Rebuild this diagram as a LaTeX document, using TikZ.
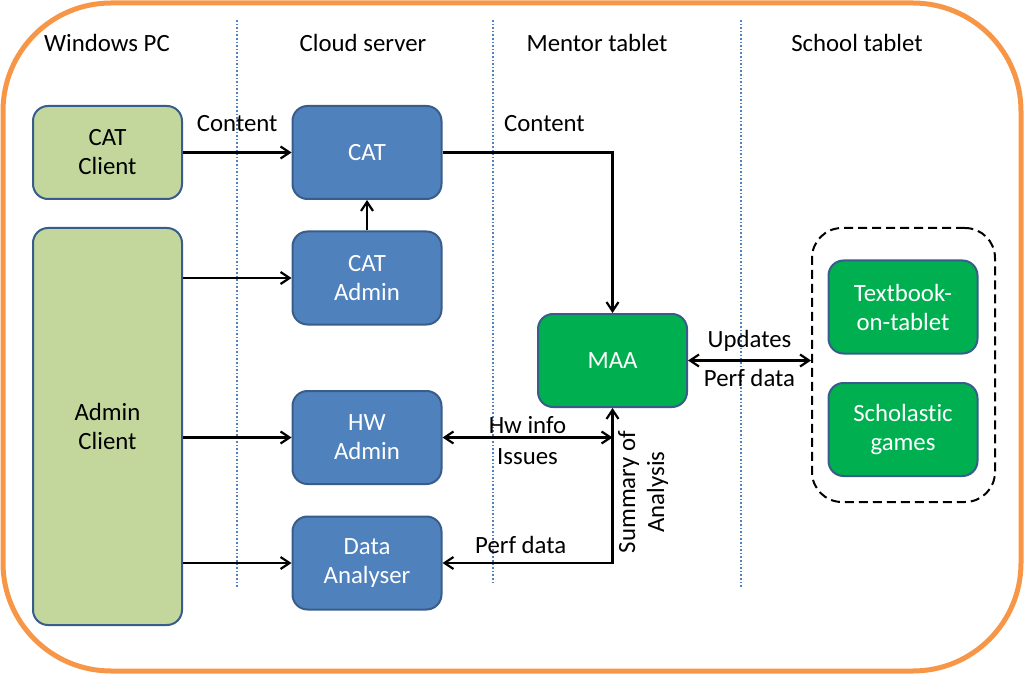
\documentclass[tikz,border=0pt]{standalone}
\usepackage{fontspec}
\setmainfont{Carlito}[Ligatures={NoCommon,NoRare}]
\usetikzlibrary{arrows.meta}
\definecolor{frameorange}{HTML}{F79646}
\definecolor{boxedge}{HTML}{385D8A}
\definecolor{clientgreen}{HTML}{C3D69B}
\definecolor{serverblue}{HTML}{4F81BD}
\definecolor{tabletgreen}{HTML}{00B050}

\begin{document}
\begin{tikzpicture}[x=0.5pt, y=-0.5pt,
  font=\fontsize{12.4}{14.5}\selectfont,
  box/.style={
    draw=boxedge, line width=1pt, rounded corners=7.5pt,
    minimum width=74.5pt, minimum height=46.5pt,
    align=center, inner sep=2pt},
  client/.style={box, fill=clientgreen},
  server/.style={box, fill=serverblue, text=white},
  tablet/.style={box, fill=tabletgreen, text=white},
  group/.style={draw, dash pattern=on 4.5pt off 2.5pt, line width=1pt,
    rounded corners=15pt, minimum width=91.5pt, minimum height=137pt},
  lane/.style={serverblue, densely dotted, line width=0.8pt},
  flow/.style={-{Straight Barb[length=4.5pt, width=6pt]}, line width=1.1pt},
  both/.style={{Straight Barb[length=4.5pt, width=6pt]}-{Straight Barb[length=4.5pt, width=6pt]}, line width=1.1pt},
  lbl/.style={inner sep=0pt}]

\useasboundingbox (0,0) rectangle (1024,674);

% --- outer frame and lanes ---
\draw[frameorange, line width=2.5pt, rounded corners=54pt] (3,3) rectangle (1021,671);
\draw[lane] (237,20) -- (237,587);
\draw[lane] (493,20) -- (493,585);
\draw[lane] (741,20) -- (741,587);

\node (hpc)    at (107,43) {Windows PC};
\node (hcloud) at (363,43) {Cloud server};
\node (hment)  at (597,43) {Mentor tablet};
\node (hschl)  at (857,43) {School tablet};

% --- Windows PC ---
\node[client] (cclient) at (107.5,152.5) {CAT\\Client};
\node[client, minimum height=198.5pt] (aclient) at (107.5,426.5) {Admin\\Client};

% --- cloud server ---
\node[server] (cat)    at (367,152.5) {CAT};
\node[server] (cadmin) at (367,278)   {CAT\\Admin};
\node[server] (hwadm)  at (367,437.5) {HW\\Admin};
\node[server] (dana)   at (367,563)   {Data\\Analyser};

% --- mentor + school tablets ---
\node[tablet] (maa) at (612.5,360.5) {MAA};
\node[group] (school) at (903.5,365) {};
\node[tablet] (tbook) at (903,307)   {Textbook-\\on-tablet};
\node[tablet] (games) at (903,429.5) {Scholastic\\games};

% --- flows ---
\draw[flow] (cclient.east) -- node[lbl, above=10pt]{Content} (cat.west);
\draw[flow] (cat.east) -| node[lbl, pos=0.3, above=10pt]{Content} (maa.north);
\draw[flow] (cadmin.north) -- (cat.south);
\draw[flow] (cadmin.west -| aclient.east) -- (cadmin.west);
\draw[flow] (hwadm.west -| aclient.east) -- (hwadm.west);
\draw[flow] (dana.west -| aclient.east) -- (dana.west);

\draw[both] (hwadm.east) -- node[lbl, above=1.5pt]{Hw info} node[lbl, below=5pt]{Issues} (hwadm.east -| maa.south);
\draw[both] (dana.east) -| node[lbl, pos=0.23, above=4pt]{Perf data} (maa.south);
\node[rotate=90, align=center] (summ) at (643,492) {Summary of\\Analysis};
\draw[both] (maa.east) -- node[lbl, above=4pt]{Updates} node[lbl, below=4pt]{Perf data} (maa.east -| school.west);
\end{tikzpicture}
\end{document}
